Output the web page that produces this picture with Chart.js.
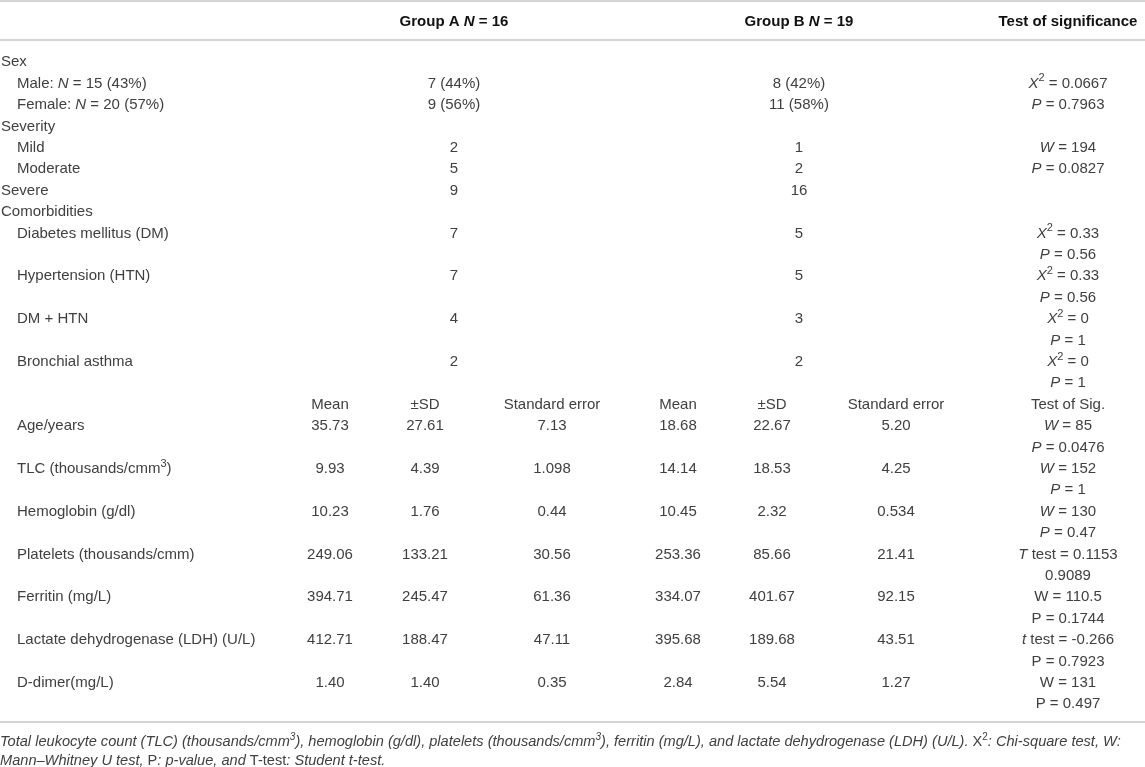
<!DOCTYPE html>
<html>
<head>
<meta charset="utf-8">
<script src="https://cdn.jsdelivr.net/npm/chart.js@4.4.1/dist/chart.umd.min.js"></script>
<style>
  html, body { margin: 0; padding: 0; background: #fff; }
  canvas { display: block; }
</style>
</head>
<body>
<canvas id="tbl" width="1145" height="767"></canvas>
<script>
// table text. *x* = italic, ^{x} = superscript
const headers = ['Group A *N* = 16', 'Group B *N* = 19', 'Test of significance'];

// one entry per text line of the body
const rowLabels = [
  'Sex', 'Male: *N* = 15 (43%)', 'Female: *N* = 20 (57%)',
  'Severity', 'Mild', 'Moderate', 'Severe',
  'Comorbidities', 'Diabetes mellitus (DM)', '', 'Hypertension (HTN)', '',
  'DM + HTN', '', 'Bronchial asthma', '',
  '', 'Age/years', '', 'TLC (thousands/cmm^{3})', '', 'Hemoglobin (g/dl)', '',
  'Platelets (thousands/cmm)', '', 'Ferritin (mg/L)', '',
  'Lactate dehydrogenase (LDH) (U/L)', '', 'D-dimer(mg/L)', ''
];
const sectionRows = [0, 3, 6, 7];

// counts, first block
const countRows = [1, 2, 4, 5, 6, 8, 10, 12, 14];
const countA = ['7 (44%)', '9 (56%)', '2', '5', '9', '7', '7', '4', '2'];
const countB = ['8 (42%)', '11 (58%)', '1', '2', '16', '5', '5', '3', '2'];

// second block
const statHeader = ['Mean', '±SD', 'Standard error'];
const statHeaderRow = 16;
const measureRows = [17, 19, 21, 23, 25, 27, 29];
const meanA = ['35.73', '9.93', '10.23', '249.06', '394.71', '412.71', '1.40'];
const sdA   = ['27.61', '4.39', '1.76', '133.21', '245.47', '188.47', '1.40'];
const seA   = ['7.13', '1.098', '0.44', '30.56', '61.36', '47.11', '0.35'];
const meanB = ['18.68', '14.14', '10.45', '253.36', '334.07', '395.68', '2.84'];
const sdB   = ['22.67', '18.53', '2.32', '85.66', '401.67', '189.68', '5.54'];
const seB   = ['5.20', '4.25', '0.534', '21.41', '92.15', '43.51', '1.27'];

// test of significance column, one entry per body line
const tests = [
  '', '*X*^{2} = 0.0667', '*P* = 0.7963',
  '', '*W* = 194', '*P* = 0.0827', '',
  '', '*X*^{2} = 0.33', '*P* = 0.56', '*X*^{2} = 0.33', '*P* = 0.56',
  '*X*^{2} = 0', '*P* = 1', '*X*^{2} = 0', '*P* = 1',
  'Test of Sig.', '*W* = 85', '*P* = 0.0476', '*W* = 152', '*P* = 1',
  '*W* = 130', '*P* = 0.47', '*T* test = 0.1153', '0.9089',
  'W = 110.5', 'P = 0.1744', '*t* test = -0.266', 'P = 0.7923',
  'W = 131', 'P = 0.497'
];

const footnotes = [
  '*Total leukocyte count (TLC) (thousands/cmm^{3}), hemoglobin (g/dl), platelets (thousands/cmm^{3}), ferritin (mg/L), and lactate dehydrogenase (LDH) (U/L).* X^{2}*: Chi-square test, W:*',
  '*Mann–Whitney U test,* P*: p-value, and* T-test*: Student t-test.*'
];

// ---- layout ----
const FONT = '"Liberation Sans", Arial, sans-serif';
const TEXT = '#404040';
const colX = { label: 1, indent: 17, a: 454, b: 799, test: 1068,
               meanA: 330, sdA: 425, seA: 552, meanB: 678, sdB: 772, seB: 896 };

function col(xKey, rows, texts, align) {
  return {
    data: rows.map((r, i) => ({ x: colX[xKey], y: r, t: texts[i] })),
    align: align || 'center',
    pointRadius: 0
  };
}

const labelIdx = rowLabels.map((_, i) => i).filter(i => rowLabels[i] !== '');
const testIdx = tests.map((_, i) => i).filter(i => tests[i] !== '');
const statRows = [statHeaderRow].concat(measureRows);

const datasets = [
  { data: labelIdx.map(i => ({ x: sectionRows.includes(i) ? colX.label : colX.indent, y: i, t: rowLabels[i] })),
    align: 'left', pointRadius: 0 },
  col('a', countRows, countA),
  col('b', countRows, countB),
  col('meanA', statRows, [statHeader[0]].concat(meanA)),
  col('sdA',   statRows, [statHeader[1]].concat(sdA)),
  col('seA',   statRows, [statHeader[2]].concat(seA)),
  col('meanB', statRows, [statHeader[0]].concat(meanB)),
  col('sdB',   statRows, [statHeader[1]].concat(sdB)),
  col('seB',   statRows, [statHeader[2]].concat(seB)),
  col('test', testIdx, testIdx.map(i => tests[i]))
];

// rich text: *italic* and ^{sup}
function parseRich(s) {
  const segs = [];
  let italic = false, buf = '', i = 0;
  while (i < s.length) {
    if (s[i] === '*') {
      if (buf) segs.push({ t: buf, it: italic, sup: false });
      buf = ''; italic = !italic; i++;
    } else if (s[i] === '^' && s[i + 1] === '{') {
      if (buf) segs.push({ t: buf, it: italic, sup: false });
      buf = '';
      const end = s.indexOf('}', i);
      segs.push({ t: s.slice(i + 2, end), it: italic, sup: true });
      i = end + 1;
    } else { buf += s[i]; i++; }
  }
  if (buf) segs.push({ t: buf, it: italic, sup: false });
  return segs;
}

function fontFor(seg, size, weight) {
  const sz = seg.sup ? Math.round(size * 0.7) : size;
  return (seg.it ? 'italic ' : '') + (weight || 'normal') + ' ' + sz + 'px ' + FONT;
}

function drawRich(ctx, s, x, y, align, size, weight, color) {
  const segs = parseRich(s);
  let w = 0;
  segs.forEach(sg => { ctx.font = fontFor(sg, size, weight); sg.w = ctx.measureText(sg.t).width; w += sg.w; });
  let cx = align === 'left' ? x : align === 'right' ? x - w : x - w / 2;
  y += 1.8; // glyph centre vs. 'middle' baseline
  ctx.fillStyle = color || TEXT;
  ctx.textBaseline = 'middle';
  ctx.textAlign = 'left';
  segs.forEach(sg => {
    ctx.font = fontFor(sg, size, weight);
    ctx.fillText(sg.t, cx, sg.sup ? y - size * 0.35 : y);
    cx += sg.w;
  });
}

const tablePlugin = {
  id: 'tableText',
  afterDatasetsDraw(chart) {
    const ctx = chart.ctx;
    const xs = chart.scales.x, ys = chart.scales.y;
    ctx.save();
    // rules
    ctx.strokeStyle = '#d4d4d4';
    ctx.lineWidth = 2;
    [-2.80, -0.98, 30.9].forEach(v => {
      const y = Math.round(ys.getPixelForValue(v));
      ctx.beginPath(); ctx.moveTo(0, y); ctx.lineTo(chart.width, y); ctx.stroke();
    });
    // header
    const hy = ys.getPixelForValue(-1.88);
    drawRich(ctx, headers[0], xs.getPixelForValue(colX.a), hy, 'center', 15, 'bold', '#111');
    drawRich(ctx, headers[1], xs.getPixelForValue(colX.b), hy, 'center', 15, 'bold', '#111');
    drawRich(ctx, headers[2], xs.getPixelForValue(colX.test), hy, 'center', 15, 'bold', '#111');
    // cells
    chart.data.datasets.forEach((ds, di) => {
      const meta = chart.getDatasetMeta(di);
      meta.data.forEach((el, i) => {
        drawRich(ctx, ds.data[i].t, el.x, el.y, ds.align, 15);
      });
    });
    // footnotes
    footnotes.forEach((f, i) => {
      drawRich(ctx, f, 0, ys.getPixelForValue(31.78 + i * 0.85), 'left', 14.6);
    });
    ctx.restore();
  }
};

new Chart(document.getElementById('tbl'), {
  type: 'scatter',
  data: { datasets: datasets },
  options: {
    responsive: false,
    animation: false,
    events: [],
    layout: { padding: { top: 49.8, bottom: 53.8, left: 0, right: 0 } },
    plugins: { legend: { display: false }, tooltip: { enabled: false } },
    scales: {
      x: { type: 'linear', min: 0, max: 1145, display: false },
      y: { type: 'linear', min: -0.5, max: 30.5, reverse: true, display: false }
    }
  },
  plugins: [tablePlugin]
});
</script>
</body>
</html>
